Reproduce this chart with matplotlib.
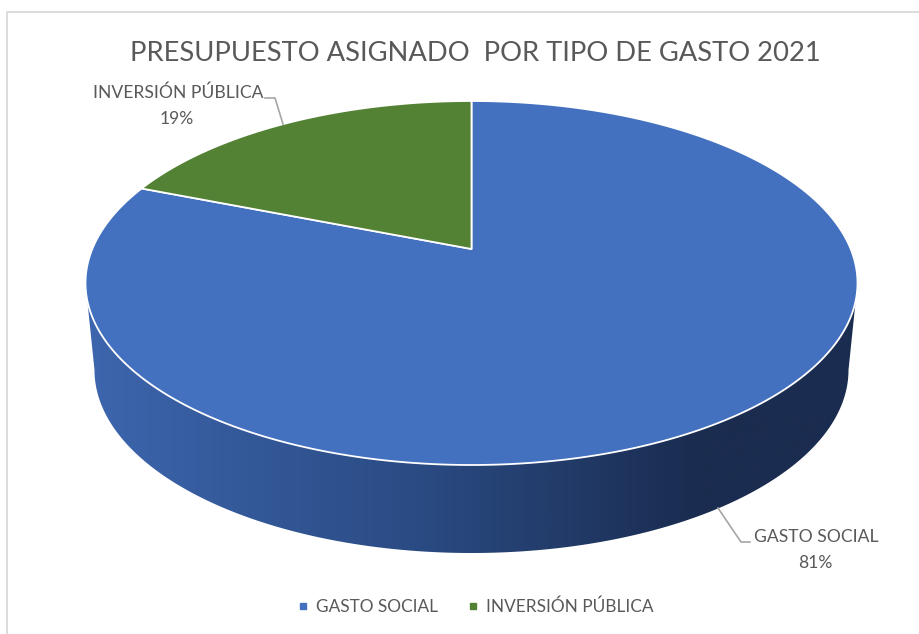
import numpy as np
import matplotlib
matplotlib.use("Agg")
import matplotlib.pyplot as plt
from matplotlib.colors import LinearSegmentedColormap
from matplotlib.lines import Line2D
from matplotlib.patches import Polygon

plt.rcParams['font.family'] = ['Lato', 'DejaVu Sans']

title = "PRESUPUESTO ASIGNADO  POR TIPO DE GASTO 2021"
categories = ["GASTO SOCIAL", "INVERSIÓN PÚBLICA"]
shares = [81, 19]
colors = ["#4371C0", "#548235"]
TXT = "#595959"

fig = plt.figure(figsize=(9.2, 6.34), dpi=100)
ax = fig.add_axes([0, 0, 1, 1])
ax.set_xlim(0, 920)
ax.set_ylim(634, 0)
ax.axis("off")

# perspective view of a disc
CX, APEX_Y, TOP_Y, BOT_Y, HALF_W = 471.5, 249.0, 101.0, 465.0, 386.0
c = (TOP_Y + BOT_Y - 2 * APEX_Y) / (BOT_Y - TOP_Y)
b = TOP_Y * (1 + c) - APEX_Y
a = HALF_W * np.sqrt(1 - c * c)


def rim(theta):
    u, v = np.sin(theta), np.cos(theta)
    d = 1 + c * v
    return CX + a * u / d, (APEX_Y + b * v) / d


# side wall: lower rim plus tangents to the top rim
t = np.linspace(np.pi / 2, 3 * np.pi / 2, 300)
low_x = CX + 377 * np.sin(t)
low_y = 370 + 183 * (-np.cos(t))
top_left_y = (TOP_Y + BOT_Y) / 2
wall = np.column_stack([
    np.r_[CX + HALF_W, low_x, CX - HALF_W],
    np.r_[top_left_y, low_y, top_left_y],
])
wall_patch = Polygon(wall, closed=True, transform=ax.transData, fc="none", ec="none")
ax.add_patch(wall_patch)
side_cmap = LinearSegmentedColormap.from_list(
    "side", [(0, "#3D66AE"), (0.55, "#2A4A82"), (1, "#1A2C4F")])
grad = np.clip(np.linspace(0, 1, 512) * 1.25, 0, 1)[None, :]
im = ax.imshow(grad, cmap=side_cmap, vmin=0, vmax=1, aspect="auto",
               extent=(85, 858, 560, 270), zorder=1)
im.set_clip_path(wall_patch)
ax.set_xlim(0, 920)
ax.set_ylim(634, 0)

# top face
edges = np.r_[0, np.cumsum(shares)] / np.sum(shares) * 2 * np.pi
for start, stop, col in zip(edges[:-1], edges[1:], colors):
    th = np.linspace(start, stop, 400)
    x, y = rim(th)
    ax.fill(np.r_[CX, x], np.r_[APEX_Y, y], fc=col, ec="white", lw=1.3,
            joinstyle="round", zorder=2)

# title
ax.text(475.5, 53.5, title, ha="center", va="center", fontsize=19.7, color=TXT)

# data labels with leaders
ax.plot([283, 275, 265], [124, 98, 98], color="#A6A6A6", lw=1.2, zorder=3)
ax.plot([718, 741, 750], [508, 542, 542], color="#A6A6A6", lw=1.2, zorder=3)
ax.text(178, 93, categories[1], ha="center", va="center", fontsize=12.6, color=TXT)
ax.text(177, 119, f"{shares[1]}%", ha="center", va="center", fontsize=12.6, color=TXT)
ax.text(816, 537.5, categories[0], ha="center", va="center", fontsize=12.6, color=TXT)
ax.text(815, 562.5, f"{shares[0]}%", ha="center", va="center", fontsize=12.6, color=TXT)

# legend
handles = [Line2D([], [], ls="none", marker="s", ms=4.2, color=col) for col in colors]
ax.legend(handles, categories, ncol=2, frameon=False, loc="center",
          bbox_to_anchor=(476 / 920, 1 - 607 / 634), fontsize=12.4, labelcolor=TXT,
          handlelength=0.6, handletextpad=0.45, columnspacing=1.75,
          borderpad=0, borderaxespad=0)

# chart-area frame, visible on two sides only
ax.plot([7.5, 7.5, 920], [634, 11.5, 11.5], color="#D9D9D9", lw=1.3, zorder=0)

fig.savefig("out.png", dpi=100)
